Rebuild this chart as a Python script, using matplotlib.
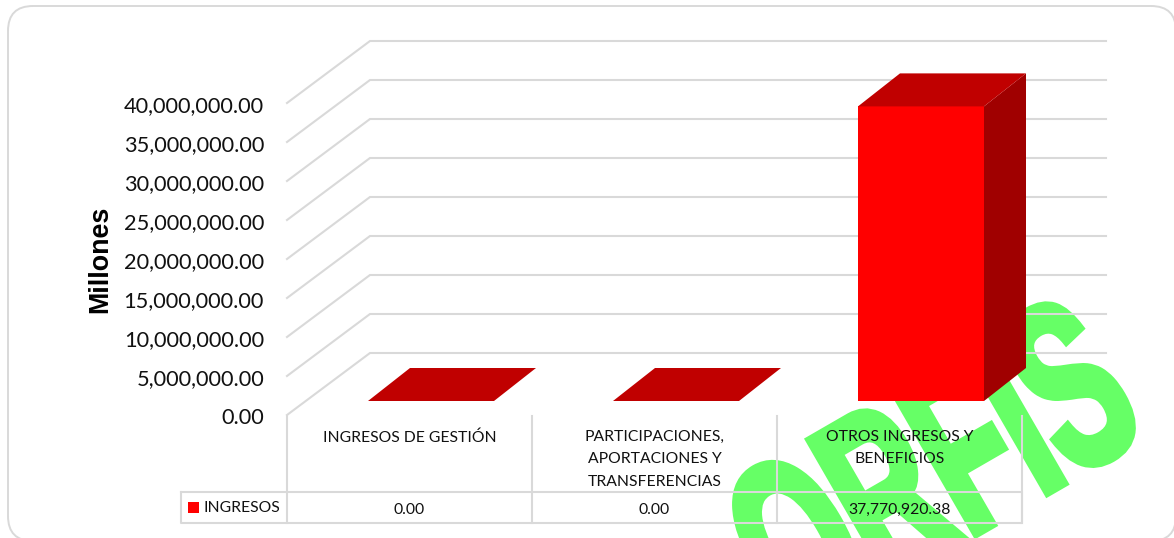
import matplotlib
matplotlib.use("Agg")

import matplotlib.pyplot as plt
from matplotlib.font_manager import FontProperties
from matplotlib.patches import FancyBboxPatch, PathPatch, Polygon, Rectangle
from matplotlib.textpath import TextPath
from matplotlib.transforms import Affine2D

# ---------- Data ----------
categories = [
    "INGRESOS DE GESTIÓN",
    "PARTICIPACIONES,\nAPORTACIONES Y\nTRANSFERENCIAS",
    "OTROS INGRESOS Y\nBENEFICIOS",
]
series_name = "INGRESOS"
values = [0.00, 0.00, 37770920.38]
y_ticks = [0, 5000000, 10000000, 15000000, 20000000, 25000000, 30000000, 35000000, 40000000]
y_label = "Millones"
watermark = "ORFIS"

# ---------- Layout (pixels of the 1174x538 picture) ----------
W, H = 1174, 538
x0_px, slot_px = 287, 245
y0_px, step_px = 415, 39
wall_dx, wall_dy = 83, 62
bar_w, bar_dx, bar_dy = 126, 42, 33
bar_shift_x, bar_shift_y = 81, 14

GRID = "#d9d9d9"
TEXT = "#111111"
FONT = "Lato"

fig = plt.figure(figsize=(W / 100, H / 100), dpi=100)
ax = fig.add_axes([0, 0, 1, 1])
ax.set_xlim(-x0_px / slot_px, (W - x0_px) / slot_px)
per_px = y_ticks[1] / step_px
ax.set_ylim(-(H - y0_px) * per_px, y0_px * per_px)
ax.axis("off")


def dx(px):
    return px / slot_px


def dy(px):
    return px * per_px


def py(px):
    # picture row to value axis
    return (y0_px - px) * per_px


# ---------- Frame ----------
r = 25
fig.add_artist(FancyBboxPatch(
    (8 + r, H - 541 + r), 1168 - 2 * r, 535 - 2 * r,
    boxstyle=f"round,pad={r},rounding_size={r}",
    transform=None, fc="white", ec=GRID, lw=1.4, zorder=-1,
))

# ---------- Watermark (condensed heavy letters, so a stretched text path) ----------
mark_path = TextPath((0, 0), watermark, size=1,
                     prop=FontProperties(family="Liberation Sans", weight="bold"))
mark_tf = Affine2D().scale(135, 240).rotate_deg(30).translate(793, H - 640)
ax.add_patch(PathPatch(mark_path, fc="#66ff66", ec="#66ff66", lw=5.5, joinstyle="miter",
                       transform=mark_tf, zorder=1))

# ---------- Grid (floor edge + back wall) ----------
for v in y_ticks:
    ax.plot([0, dx(wall_dx), dx(1106 - x0_px)],
            [v, v + dy(wall_dy), v + dy(wall_dy)],
            color=GRID, lw=1.5, zorder=2, solid_joinstyle="miter")
    ax.text(dx(264 - x0_px), v - dy(3), f"{v:,.2f}", ha="right", va="center",
            fontsize=15.7, family=FONT, color=TEXT, zorder=6)

ax.text(dx(100 - x0_px), py(259), y_label, rotation=90, ha="center", va="center",
        fontsize=19.4, fontweight="bold", family="Liberation Sans", color="black")

# ---------- Bars ----------
for i, v in enumerate(values):
    x1 = i + dx(bar_shift_x)
    x2 = x1 + dx(bar_w)
    base = dy(bar_shift_y)
    top = base + v
    ox, oy = dx(bar_dx), dy(bar_dy)
    if v > 0:
        ax.add_patch(Rectangle((x1, base), x2 - x1, v, fc="#ff0000", ec="none", zorder=3))
        ax.add_patch(Polygon([(x2, base), (x2 + ox, base + oy), (x2 + ox, top + oy), (x2, top)],
                             fc="#a00000", ec="none", zorder=3))
    ax.add_patch(Polygon([(x1, top), (x2, top), (x2 + ox, top + oy), (x1 + ox, top + oy)],
                         fc="#c00000", ec="none", zorder=3))

# ---------- Data table ----------
n = len(categories)
for i in range(n + 1):
    ax.plot([i, i], [py(416), py(523)], color=GRID, lw=1.5, zorder=4)
ax.plot([dx(181 - x0_px), n, n, dx(181 - x0_px), dx(181 - x0_px)],
        [py(492), py(492), py(523), py(523), py(492)],
        color=GRID, lw=1.5, zorder=4)

for i, cat in enumerate(categories):
    ax.text(i + 0.5, py(430), cat, ha="center", va="top", fontsize=11.35,
            family=FONT, color=TEXT, linespacing=1.77, zorder=6)
    ax.text(i + 0.5, py(509.5), f"{values[i]:,.2f}", ha="center", va="center",
            fontsize=11.35, family=FONT, color=TEXT, zorder=6)

ax.add_patch(Rectangle((dx(188 - x0_px), py(513)), dx(11), dy(11), fc="#ff0000", ec="none", zorder=5))
ax.text(dx(203 - x0_px), py(508.5), series_name, ha="left", va="center", fontsize=11.35,
        family=FONT, color=TEXT, zorder=6)

fig.savefig("out.png", dpi=100, facecolor="white")
